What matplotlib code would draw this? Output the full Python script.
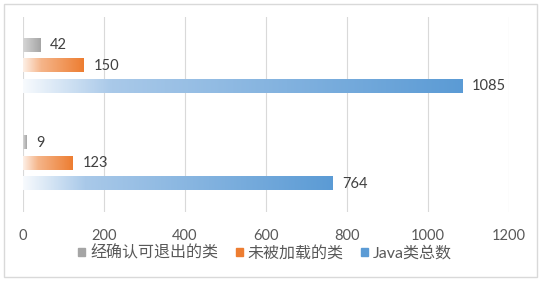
import numpy as np
import matplotlib.pyplot as plt
from matplotlib.colors import LinearSegmentedColormap
from matplotlib.patches import Rectangle

plt.rcParams['font.family'] = ['Lato', 'Noto Sans CJK SC', 'DejaVu Sans']

# données
groupes = ["A", "B"]
series = ["经确认可退出的类", "未被加载的类", "Java类总数"]
valeurs = [[42, 150, 1085],
           [9, 123, 764]]
xticks = [0, 200, 400, 600, 800, 1000, 1200]

# dégradés (clair -> couleur)
cmaps = [
    LinearSegmentedColormap.from_list("gris", [(0, "#d6d6d6"), (1, "#a5a5a5")]),
    LinearSegmentedColormap.from_list("orange", [(0, "#fdf0e7"), (0.3, "#f5b58a"), (1, "#ed7d31")]),
    LinearSegmentedColormap.from_list("bleu", [(0, "#f7fafd"), (0.2, "#a9c9e9"), (1, "#5b9bd5")]),
]
couleurs = ["#a5a5a5", "#ed7d31", "#5b9bd5"]

fig = plt.figure(figsize=(5.41, 2.81), dpi=100)
ax = fig.add_axes([23/541, 69/281, 486/541, 195/281])

decal = [-0.21, 0.0, 0.21]
h = 0.135
grad = np.linspace(0, 1, 256).reshape(1, -1)
for i, g in enumerate(groupes):
    for j in range(len(series)):
        v = valeurs[i][j]
        y = i + decal[j]
        ax.imshow(grad, cmap=cmaps[j], aspect='auto', extent=[0, v, y + h/2, y - h/2],
                  zorder=2, interpolation='bilinear')
        ax.annotate(str(v), (v, y), xytext=(7, 0), textcoords='offset points',
                    va='center', ha='left', fontsize=10.5, color='#404040')

ax.set_xlim(0, 1200)
ax.set_ylim(1.5, -0.5)
ax.set_xticks(xticks)
ax.set_yticks([])
ax.grid(axis='x', color='#d9d9d9', linewidth=0.8, zorder=0)
ax.set_axisbelow(True)
for s in ax.spines.values():
    s.set_visible(False)
ax.tick_params(axis='x', length=0, labelsize=10.5, labelcolor='#595959', pad=12)

# légende
poignees = [Rectangle((0, 0), 1, 1, color=c) for c in couleurs]
fig.legend(poignees, series, loc='center', bbox_to_anchor=(0.49, 0.10), ncol=3,
           frameon=False, fontsize=11.5, handlelength=0.45, handleheight=0.45,
           handletextpad=0.3, columnspacing=1.1, labelcolor='#595959')

# cadre
fig.patches.append(Rectangle((4/541, 4/281), 533/541, 273/281, transform=fig.transFigure,
                             fill=False, edgecolor='#d9d9d9', linewidth=1))

plt.savefig("out.png", dpi=100)
